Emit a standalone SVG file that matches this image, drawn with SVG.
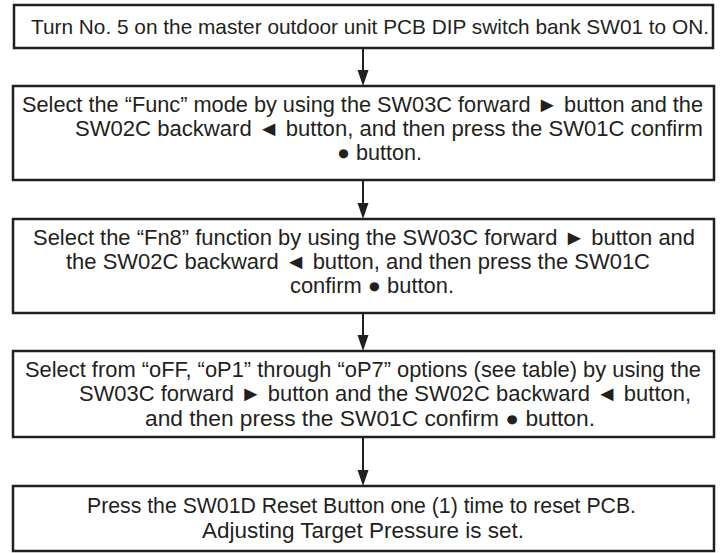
<svg xmlns="http://www.w3.org/2000/svg" width="720" height="553" viewBox="0 0 720 553">
<defs>
<style>
.box{fill:#fff;stroke:#231f20;stroke-width:2.5}
.t{font-family:"Liberation Sans","Arial",sans-serif;font-size:21.5px;fill:#231f20}
.ln{stroke:#231f20;stroke-width:2}
.hd{fill:#231f20}
</style>
</defs>
<rect width="720" height="553" fill="#fff"/>
<g id="connectors">
<line class="ln" x1="363" y1="48" x2="363" y2="72"/><polygon class="hd" points="357.5,70 368.5,70 363,86"/>
<line class="ln" x1="363" y1="180" x2="363" y2="205"/><polygon class="hd" points="357.5,203 368.5,203 363,219"/>
<line class="ln" x1="363" y1="313" x2="363" y2="337"/><polygon class="hd" points="357.5,335 368.5,335 363,351"/>
<line class="ln" x1="363" y1="437" x2="363" y2="472"/><polygon class="hd" points="357.5,470 368.5,470 363,486"/>
</g>
<g id="step1">
<rect class="box" x="14" y="5" width="699" height="43"/>
<text class="t" x="31" y="34" style="font-size:20.8px" textLength="678" lengthAdjust="spacingAndGlyphs">Turn No. 5 on the master outdoor unit PCB DIP switch bank SW01 to ON.</text>
</g>
<g id="step2">
<rect class="box" x="13" y="86" width="701" height="94"/>
<text class="t" x="22" y="112" textLength="681" lengthAdjust="spacingAndGlyphs">Select the “Func” mode by using the SW03C forward ► button and the</text>
<text class="t" x="75" y="136" textLength="628" lengthAdjust="spacingAndGlyphs">SW02C backward ◄ button, and then press the SW01C confirm</text>
<text class="t" x="337" y="160" textLength="85" lengthAdjust="spacingAndGlyphs">● button.</text>
</g>
<g id="step3">
<rect class="box" x="13" y="219" width="701" height="94"/>
<text class="t" x="33" y="245" textLength="662" lengthAdjust="spacingAndGlyphs">Select the “Fn8” function by using the SW03C forward ► button and</text>
<text class="t" x="66" y="269" textLength="584" lengthAdjust="spacingAndGlyphs">the SW02C backward ◄ button, and then press the SW01C</text>
<text class="t" x="290" y="293" textLength="164" lengthAdjust="spacingAndGlyphs">confirm ● button.</text>
</g>
<g id="step4">
<rect class="box" x="13" y="351" width="701" height="86"/>
<text class="t" x="25" y="377" textLength="676" lengthAdjust="spacingAndGlyphs">Select from “oFF, “oP1” through “oP7” options (see table) by using the</text>
<text class="t" x="79" y="401" textLength="612" lengthAdjust="spacingAndGlyphs">SW03C forward ► button and the SW02C backward ◄ button,</text>
<text class="t" x="145" y="426" textLength="450" lengthAdjust="spacingAndGlyphs">and then press the SW01C confirm ● button.</text>
</g>
<g id="step5">
<rect class="box" x="13" y="486" width="701" height="65"/>
<text class="t" x="87" y="513" textLength="549" lengthAdjust="spacingAndGlyphs">Press the SW01D Reset Button one (1) time to reset PCB.</text>
<text class="t" x="202" y="538" textLength="322" lengthAdjust="spacingAndGlyphs">Adjusting Target Pressure is set.</text>
</g>
</svg>
